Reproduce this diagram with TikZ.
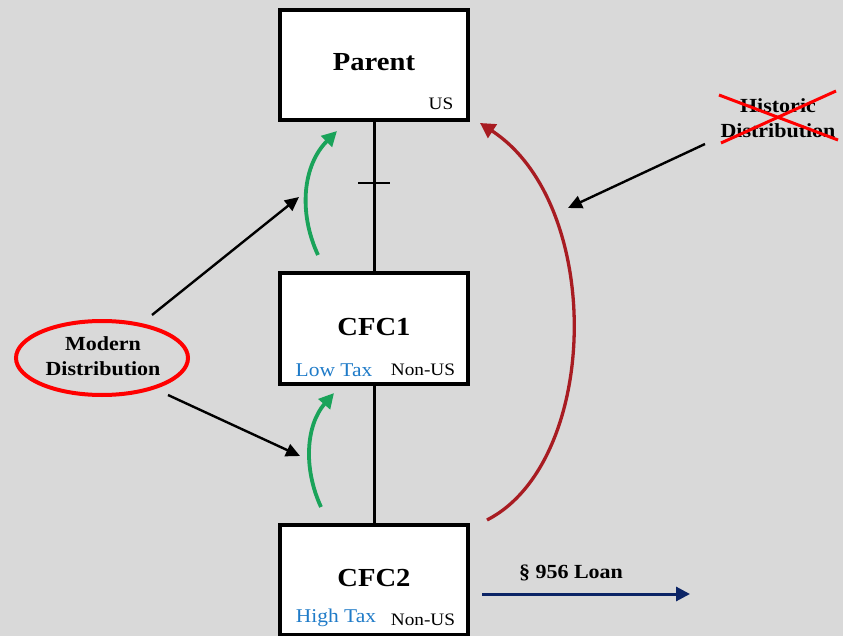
\documentclass[tikz,border=0pt]{standalone}
\usepackage{fontspec}
\setmainfont{Liberation Serif}[FakeStretch=1.1]
\usetikzlibrary{arrows.meta,shapes.geometric}
\definecolor{bg}{HTML}{D9D9D9}
\definecolor{taxblue}{HTML}{1F7BC8}
\definecolor{arrgreen}{HTML}{1AA35A}
\definecolor{arrred}{HTML}{A81C22}
\definecolor{navy}{HTML}{0B2466}
\tikzset{
  entity/.style={draw=black,fill=white,line width=4pt,minimum width=188pt,minimum height=110pt,inner sep=0pt},
  title/.style={font=\fontsize{26}{28}\selectfont\bfseries},
  small/.style={font=\fontsize{17.5}{19}\selectfont,inner sep=0pt},
  taxlbl/.style={font=\fontsize{19.5}{21}\selectfont,inner sep=0pt,text=taxblue},
  lbl/.style={font=\fontsize{20}{25}\selectfont\bfseries,align=center,inner sep=0pt},
  blk/.style={draw=black,line width=2.4pt,-{Triangle[length=14pt,width=13pt]}},
  grn/.style={draw=arrgreen,line width=3.8pt,-{Triangle[length=15pt,width=15pt]}},
  redarc/.style={draw=arrred,line width=3.3pt,-{Triangle[length=15pt,width=16pt]}}
}
\begin{document}
\begin{tikzpicture}[x=1pt,y=-1pt]
\fill[bg] (0,0) rectangle (843,636);
\useasboundingbox (0,0) rectangle (843,636);
% boxes
\node[entity] (parent) at (374,65) {};
\node[title] (ptxt) at (374,62) {Parent};
\node[small] (pus) at (441,104) {US};
\node[entity] (cfc1) at (374,328.5) {};
\node[title] (c1txt) at (374,327) {CFC1};
\node[taxlbl] (c1tax) at (334,370) {Low Tax};
\node[small] (c1us) at (423,370) {Non-US};
\node[entity] (cfc2) at (374,580) {};
\node[title] (c2txt) at (374,578) {CFC2};
\node[taxlbl] (c2tax) at (336,618) {High Tax};
\node[small] (c2us) at (423,620) {Non-US};
% ownership lines
\draw[line width=3pt] (parent.south) -- (cfc1.north);
\draw[line width=3pt] (cfc1.south) -- (cfc2.north);
\coordinate (tickL) at (358,183);
\coordinate (tickR) at (390,183);
\draw[line width=2pt] (tickL) -- (tickR);
% green arcs
\coordinate (g1s) at (318,255); \coordinate (g1e) at (337,131);
\draw[grn] (g1s) .. controls (298,212) and (303,165) .. (g1e);
\coordinate (g2s) at (321,507); \coordinate (g2e) at (334,393);
\draw[grn] (g2s) .. controls (303,468) and (306,425) .. (g2e);
% red arc
\coordinate (rs) at (487,520); \coordinate (re) at (480,123);
\draw[redarc] (rs) .. controls (600,462) and (605,205) .. (re);
% modern distribution
\node[draw=red,line width=4pt,ellipse,minimum width=172pt,minimum height=74pt,inner sep=0pt] (modern) at (102,358) {};
\node[lbl] (mtxt) at (103,356) {Modern\\Distribution};
\coordinate (m1s) at (152,315); \coordinate (m1e) at (299,197);
\draw[blk] (m1s) -- (m1e);
\coordinate (m2s) at (168,395); \coordinate (m2e) at (300,456);
\draw[blk] (m2s) -- (m2e);
% historic distribution
\node[lbl] (htxt) at (778,118) {Historic\\Distribution};
\coordinate (x1a) at (719,95); \coordinate (x1b) at (838,140);
\coordinate (x2a) at (721,143); \coordinate (x2b) at (836,91);
\draw[red,line width=3pt] (x1a) -- (x1b);
\draw[red,line width=3pt] (x2a) -- (x2b);
\coordinate (hs) at (705,144); \coordinate (he) at (568,208);
\draw[blk] (hs) -- (he);
% loan
\node[lbl] (loan) at (571,573) {\S\ 956 Loan};
\coordinate (ls) at (482,594); \coordinate (le) at (690,594);
\draw[draw=navy,line width=3pt,-{Triangle[length=14pt,width=14pt]}] (ls) -- (le);
\end{tikzpicture}
\end{document}
